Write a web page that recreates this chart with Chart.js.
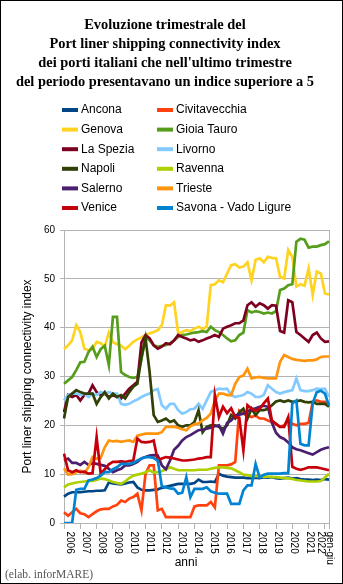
<!DOCTYPE html>
<html>
<head>
<meta charset="utf-8">
<script src="https://cdn.jsdelivr.net/npm/chart.js@4.4.1/dist/chart.umd.min.js"></script>
<style>
  html, body { margin: 0; padding: 0; background: #fff; }
  #wrap { position: relative; width: 343px; height: 584px; border: 1px solid #000; box-sizing: border-box; }
</style>
</head>
<body>
<div id="wrap"><canvas id="grafico"></canvas></div>
<script>
// indice trimestrale, dal 1° trim. 2006 al 2° trim. 2022
const anni = ['2006', '2007', '2008', '2009', '2010', '2011', '2012', '2013', '2014', '2015',
  '2016', '2017', '2018', '2019', '2020', '2021', '2022', 'gen-giu'];

const titolo = [
  'Evoluzione trimestrale del',
  'Port liner shipping connectivity index',
  "dei porti italiani che nell'ultimo trimestre",
  'del periodo presentavano un indice superiore a 5'
];

const porti = ['Ancona', 'Civitavecchia', 'Genova', 'Gioia Tauro', 'La Spezia', 'Livorno',
  'Napoli', 'Ravenna', 'Salerno', 'Trieste', 'Venice', 'Savona - Vado Ligure'];

const colori = ['#004586', '#ff420e', '#ffd320', '#579d1c', '#7e0021', '#83caff',
  '#314004', '#aecf00', '#4b1f6f', '#ff950e', '#c5000b', '#0084d1'];

const ancona = [5.4, 6.0, 6.3, 6.3, 6.3, 6.4, 6.5, 6.5, 6.6, 6.6,
  6.7, 8.3, 8.1, 8.0, 7.9, 8.1, 8.3, 8.4, 7.3, 6.8,
  6.7, 6.7, 6.8, 6.9, 7.2, 7.4, 7.6, 7.8, 8.0, 8.0,
  8.0, 8.0, 8.2, 8.9, 8.4, 8.4, 8.5, 8.4, 10.1, 9.7,
  9.5, 9.4, 9.3, 9.3, 9.3, 9.2, 9.2, 9.3, 9.2, 9.4,
  9.3, 9.4, 9.2, 9.1, 9.2, 9.3, 9.1, 9.2, 9.0, 8.9,
  8.9, 8.8, 8.9, 8.8, 9.0, 8.9];

const civitavecchia = [2.2, 1.5, 2.2, 2.9, 2.0, 1.8, 1.2, 1.8, 2.4, 2.8,
  2.9, 2.9, 3.4, 3.7, 4.6, 4.3, 5.0, 5.3, 6.0, 2.6,
  10.1, 11.8, 11.8, 2.6, 2.9, 1.2, 1.2, 1.2, 1.2, 1.2,
  1.2, 1.2, 3.4, 3.6, 3.6, 3.6, 4.3, 3.2, 11.8, 11.8,
  11.8, 12.0, 12.5, 23.0, 22.4, 22.0, 21.7, 22.0, 21.4, 21.4,
  21.0, 20.7, 20.3, 19.7, 20.0, 21.0, 20.3, 20.0, 20.3, 20.3,
  20.5, 24.8, 25.1, 24.8, 24.8, 24.4];

const genova = [35.6, 36.4, 37.4, 40.5, 39.1, 35.7, 35.4, 35.6, 37.1, 36.8,
  36.1, 39.0, 37.0, 36.6, 36.3, 35.6, 36.3, 37.1, 37.6, 38.0,
  38.5, 38.8, 39.1, 39.5, 40.5, 44.6, 44.5, 45.2, 38.8, 39.1,
  39.5, 39.3, 39.8, 40.2, 39.7, 40.2, 48.7, 48.9, 49.7, 49.3,
  51.1, 52.8, 53.0, 52.3, 52.5, 53.4, 49.7, 53.9, 54.2, 53.4,
  54.5, 54.3, 54.2, 50.4, 50.1, 55.9, 54.5, 48.4, 48.9, 48.6,
  52.1, 46.7, 51.5, 51.1, 47.0, 46.8];

const gioiaTauro = [28.5, 29.2, 29.9, 31.3, 32.9, 33.0, 35.0, 36.1, 34.0, 35.6,
  36.3, 32.3, 42.2, 42.2, 30.9, 30.3, 29.9, 29.7, 29.9, 33.5,
  38.1, 37.4, 36.4, 36.1, 36.3, 36.4, 36.8, 37.4, 38.1, 38.5,
  38.6, 38.8, 39.0, 39.1, 39.3, 39.1, 40.2, 39.5, 39.1, 38.5,
  37.8, 37.2, 37.4, 38.5, 39.0, 43.6, 43.1, 43.4, 43.2, 42.9,
  43.1, 42.9, 43.4, 47.7, 48.0, 48.7, 48.9, 57.6, 58.2, 58.0,
  56.4, 56.6, 56.6, 56.9, 57.1, 57.7];

const laSpezia = [22.7, 26.2, 25.8, 26.2, 25.1, 26.2, 26.5, 28.2, 26.8, 26.2,
  26.5, 25.8, 26.2, 25.8, 25.5, 26.5, 27.5, 28.2, 28.9, 37.0,
  38.5, 37.8, 36.4, 35.7, 36.1, 36.8, 36.6, 37.4, 38.5, 38.1,
  37.8, 37.4, 37.6, 37.1, 37.4, 37.8, 38.1, 38.5, 38.1, 39.8,
  40.2, 40.5, 40.9, 40.9, 41.5, 44.6, 45.2, 44.3, 45.0, 44.6,
  43.9, 44.6, 44.5, 39.3, 39.0, 45.6, 45.2, 39.1, 38.5, 37.8,
  37.1, 38.5, 39.0, 37.8, 37.1, 37.2];

const livorno = [25.1, 26.2, 26.5, 26.5, 26.2, 26.5, 25.8, 26.5, 26.2, 26.8,
  26.5, 26.8, 26.5, 26.5, 24.4, 24.2, 24.4, 24.9, 25.3, 25.8,
  26.2, 26.5, 27.2, 27.4, 24.1, 23.4, 24.4, 24.4, 23.1, 22.4,
  22.7, 23.3, 23.4, 24.4, 23.4, 25.1, 26.8, 27.2, 27.5, 27.4,
  27.5, 26.2, 25.8, 26.0, 26.2, 26.8, 26.5, 25.8, 25.8, 26.2,
  28.2, 27.5, 26.8, 26.5, 26.8, 27.0, 27.2, 29.6, 27.2, 27.0,
  27.0, 27.2, 27.5, 27.4, 27.5, 25.8];

const napoli = [21.4, 25.8, 26.5, 27.2, 26.8, 26.5, 26.5, 26.5, 24.4, 25.8,
  26.8, 25.5, 26.5, 25.8, 26.2, 25.5, 26.8, 27.9, 28.5, 34.0,
  37.8, 30.9, 22.1, 20.7, 21.0, 21.4, 20.7, 21.0, 20.0, 19.7,
  20.0, 20.0, 20.7, 23.1, 18.6, 19.7, 20.0, 20.0, 19.7, 19.3,
  20.0, 22.1, 21.4, 22.7, 23.4, 21.4, 23.4, 22.1, 23.1, 23.1,
  23.4, 24.1, 24.9, 25.1, 24.8, 25.1, 24.8, 24.9, 25.1, 24.8,
  24.7, 24.8, 24.4, 24.4, 24.4, 23.8];

const ravenna = [7.3, 7.9, 8.1, 8.3, 8.4, 8.5, 8.6, 8.6, 8.8, 9.1,
  9.0, 8.7, 8.4, 8.2, 8.0, 8.5, 9.2, 9.7, 9.9, 10.1,
  10.4, 10.8, 10.3, 10.4, 10.6, 11.0, 11.4, 11.1, 10.8, 10.8,
  10.8, 10.8, 10.8, 10.9, 10.9, 10.9, 11.1, 11.3, 11.4, 11.4,
  11.3, 11.2, 10.8, 10.4, 9.9, 9.8, 9.6, 9.6, 9.6, 9.5,
  9.5, 9.4, 9.4, 9.3, 9.2, 9.2, 9.0, 8.8, 8.7, 8.6,
  8.5, 8.5, 8.5, 8.6, 9.3, 10.1];

const salerno = [12.8, 13.2, 12.3, 12.3, 11.9, 12.5, 11.9, 12.3, 12.1, 11.9,
  11.7, 11.1, 10.4, 10.8, 11.1, 11.8, 11.8, 12.1, 12.5, 13.2,
  13.5, 13.8, 13.9, 13.8, 11.8, 11.0, 12.8, 15.0, 15.8, 16.9,
  17.6, 18.0, 18.5, 19.0, 19.1, 19.3, 19.5, 19.8, 20.0, 18.3,
  20.5, 21.0, 22.0, 22.2, 22.4, 22.8, 23.3, 23.5, 23.8, 24.0,
  23.8, 20.5, 18.5, 17.6, 17.2, 16.5, 15.5, 15.1, 14.9, 14.6,
  14.3, 14.0, 14.5, 15.0, 15.3, 15.5];

const trieste = [11.2, 9.9, 10.0, 10.4, 10.7, 10.3, 11.4, 13.5, 13.2, 13.3,
  15.5, 16.9, 16.7, 16.8, 16.6, 16.8, 16.9, 16.6, 17.9, 18.1,
  18.3, 18.3, 18.3, 18.3, 18.6, 19.7, 19.7, 19.7, 19.5, 19.2,
  19.0, 19.8, 20.2, 20.4, 21.0, 21.5, 22.4, 25.0, 26.5, 26.5,
  26.2, 26.2, 28.5, 29.9, 30.2, 31.6, 29.6, 29.8, 29.9, 29.7,
  29.6, 29.6, 29.6, 33.0, 34.4, 34.0, 33.6, 33.4, 33.3, 33.2,
  33.3, 33.3, 33.5, 34.0, 34.1, 34.1];

const venice = [14.2, 10.8, 10.4, 10.8, 10.4, 10.5, 10.1, 10.2, 17.6, 10.1,
  11.0, 12.0, 12.5, 12.5, 12.6, 12.5, 12.7, 12.8, 17.3, 16.6,
  16.5, 16.6, 16.9, 12.8, 13.2, 13.5, 13.4, 13.2, 13.0, 12.8,
  12.8, 12.9, 13.0, 13.2, 13.3, 13.5, 13.5, 26.2, 21.7, 23.8,
  22.5, 23.5, 21.7, 21.5, 14.9, 24.1, 23.4, 23.0, 23.4, 24.5,
  25.5, 21.0, 20.3, 19.7, 19.7, 21.7, 11.5, 11.1, 10.9, 11.1,
  11.4, 11.4, 11.4, 11.2, 11.0, 10.8];

const savona = [0, 0, 0, 6.8, 7.0, 7.0, 8.7, 8.9, 9.2, 9.7,
  10.4, 10.4, 11.0, 11.4, 12.1, 12.1, 12.1, 12.3, 12.8, 13.2,
  13.5, 13.5, 13.3, 12.8, 7.5, 7.3, 7.1, 7.0, 6.0, 6.2,
  9.4, 5.3, 7.0, 7.0, 7.0, 7.3, 6.5, 6.2, 6.0, 6.0,
  6.0, 3.9, 3.9, 3.9, 6.7, 7.7, 7.7, 12.1, 9.3, 9.9,
  10.1, 10.1, 10.1, 10.1, 10.2, 10.2, 24.5, 25.1, 16.2, 15.9,
  15.9, 24.5, 26.8, 27.1, 26.5, 24.0];

const serie = [ancona, civitavecchia, genova, gioiaTauro, laSpezia, livorno,
  napoli, ravenna, salerno, trieste, venice, savona];

// categorie trimestrali
const trimestri = [];
anni.slice(0, 16).forEach(a => { for (let q = 1; q <= 4; q++) trimestri.push(a + ' T' + q); });
trimestri.push('2022 T1', '2022 T2');

const grigio = '#b3b3b3';

const extra = {
  id: 'extra',
  afterDraw(chart) {
    const ctx = chart.ctx;
    const xs = chart.scales.x;
    ctx.save();

    // legenda su due colonne
    ctx.font = '12px "Liberation Sans", Arial, sans-serif';
    ctx.textBaseline = 'middle';
    ctx.textAlign = 'left';
    chart.data.datasets.forEach((ds, i) => {
      const x = [61, 156][i % 2];
      const y = 109 + Math.floor(i / 2) * 19.6;
      ctx.fillStyle = ds.borderColor;
      ctx.fillRect(x, y - 2, 16, 4);
      ctx.fillStyle = '#000';
      ctx.fillText(ds.label, x + 19, y);
    });

    // etichette asse x, ruotate
    ctx.font = '10px "Liberation Sans", Arial, sans-serif';
    anni.forEach((a, k) => {
      let idx, dx;
      if (k < 16) { idx = k * 4; dx = 6 - k * 0.3; }
      else if (a === '2022') { idx = 64; dx = -4; }
      else { idx = 65; dx = 0.5; }
      ctx.save();
      ctx.translate(xs.getPixelForValue(idx) + dx, 530.5);
      ctx.rotate(Math.PI / 2);
      ctx.fillText(a, 0, 0);
      ctx.restore();
    });

    // titolo asse x
    ctx.font = '12px "Liberation Sans", Arial, sans-serif';
    ctx.textAlign = 'center';
    ctx.fillText('anni', 185, 562);

    // fonte
    ctx.font = '11.5px "Liberation Serif", "Times New Roman", serif';
    ctx.textAlign = 'left';
    ctx.fillStyle = '#555';
    ctx.fillText('(elab. inforMARE)', 4, 574);
    ctx.restore();
  }
};

new Chart(document.getElementById('grafico'), {
  type: 'line',
  data: {
    labels: trimestri,
    datasets: porti.map((p, i) => ({
      label: p,
      data: serie[i],
      borderColor: colori[i],
      backgroundColor: colori[i],
      borderWidth: 2.7,
      pointRadius: 0,
      tension: 0,
      fill: false,
      order: porti.length - i
    }))
  },
  options: {
    responsive: true,
    maintainAspectRatio: false,
    animation: false,
    layout: { padding: { left: 0, right: 13, top: 0, bottom: 0 } },
    plugins: {
      legend: { display: false },
      tooltip: { enabled: false },
      title: {
        display: true,
        text: titolo,
        color: '#000',
        font: { family: '"Liberation Serif", "Times New Roman", serif', size: 14.4, weight: 'bold', lineHeight: '19px' },
        padding: { top: 15, bottom: 138 }
      }
    },
    scales: {
      x: {
        ticks: { display: false, autoSkip: false },
        grid: {
          drawOnChartArea: false,
          drawTicks: true,
          tickLength: 6,
          color: ctx => (ctx.index % 4 === 0 || ctx.index === 65) ? grigio : 'rgba(0,0,0,0)'
        },
        border: { color: grigio },
        afterFit: s => { s.height = 60; }
      },
      y: {
        min: 0,
        max: 60,
        ticks: { stepSize: 10, color: '#000', padding: 5, font: { size: 10 } },
        grid: { color: grigio, tickLength: 4 },
        border: { color: grigio },
        title: {
          display: true,
          text: 'Port liner shipping connectivity index',
          color: '#000',
          font: { size: 12 },
          padding: { top: 19, bottom: 0 }
        },
        afterFit: s => { s.width = 63; }
      },
      y2: {
        position: 'right',
        min: 0,
        max: 60,
        ticks: { display: false },
        grid: { display: false },
        border: { color: grigio },
        afterFit: s => { s.width = 0; }
      }
    }
  },
  plugins: [extra]
});
</script>
</body>
</html>
